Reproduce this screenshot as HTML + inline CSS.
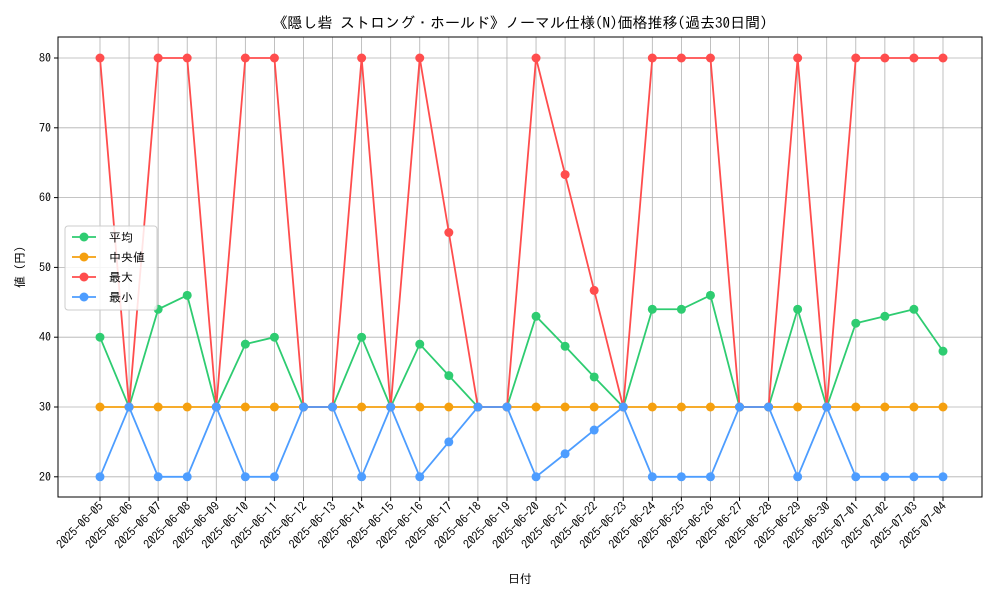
<!DOCTYPE html>
<html><head><meta charset="utf-8"><style>
body{margin:0;background:#fff;}
svg{font-family:"IPAGothic","Liberation Sans","Noto Sans CJK JP",sans-serif;}
</style></head><body>
<svg id="c" width="1000" height="600"></svg>
<script>
const categories=["2025-06-05","2025-06-06","2025-06-07","2025-06-08","2025-06-09","2025-06-10","2025-06-11","2025-06-12","2025-06-13","2025-06-14","2025-06-15","2025-06-16","2025-06-17","2025-06-18","2025-06-19","2025-06-20","2025-06-21","2025-06-22","2025-06-23","2025-06-24","2025-06-25","2025-06-26","2025-06-27","2025-06-28","2025-06-29","2025-06-30","2025-07-01","2025-07-02","2025-07-03","2025-07-04"];
const avgValues=[40,30,44,46,30,39,40,30,30,40,30,39,34.5,30,30,43,38.7,34.3,30,44,44,46,30,30,44,30,42,43,44,38];
const medianValues=[30,30,30,30,30,30,30,30,30,30,30,30,30,30,30,30,30,30,30,30,30,30,30,30,30,30,30,30,30,30];
const maxValues=[80,30,80,80,30,80,80,30,30,80,30,80,55,30,30,80,63.3,46.7,30,80,80,80,30,30,80,30,80,80,80,80];
const minValues=[20,30,20,20,30,20,20,30,30,20,30,20,25,30,30,20,23.3,26.7,30,20,20,20,30,30,20,30,20,20,20,20];
const yTicks=[20,30,40,50,60,70,80];
const NS="http://www.w3.org/2000/svg";
const svg=document.getElementById('c');
const L=58,R=982,T=37,B=497;
const xs=i=>100+i*(943-100)/29;
const ys=v=>407-(v-30)*(407-58)/50;
function mk(t,a,p){const e=document.createElementNS(NS,t);for(const k in a)e.setAttribute(k,a[k]);(p||svg).appendChild(e);return e;}
categories.forEach((c,i)=>{const g=mk('line',{x1:xs(i),x2:xs(i),y1:T,y2:B,stroke:'#b0b0b0','stroke-width':0.8});

const tk=mk('line',{x1:xs(i),x2:xs(i),y1:B,y2:B+4,stroke:'#000'});

const t=mk('text',{x:0,y:0,'font-size':12,'text-anchor':'end',transform:`translate(${xs(i)+4},${B+10}) rotate(-45)`});
t.textContent=c;});
yTicks.forEach(v=>{const g=mk('line',{x1:L,x2:R,y1:ys(v),y2:ys(v),stroke:'#b0b0b0','stroke-width':0.8});

const tk=mk('line',{x1:L-4,x2:L,y1:ys(v),y2:ys(v),stroke:'#000'});

const t=mk('text',{x:L-7,y:ys(v)+4,'font-size':12,'text-anchor':'end'});t.textContent=v;
});
const series=[["avg",avgValues,"#2ecc71"],["median",medianValues,"#f5a00f"],["max",maxValues,"#ff4d4d"],["min",minValues,"#4d9dff"]];
series.forEach(([n,vals,col])=>{
const p=mk('polyline',{points:vals.map((v,i)=>xs(i)+','+ys(v)).join(' '),fill:'none',stroke:col,'stroke-width':1.8});

vals.forEach((v,i)=>{const c=mk('circle',{cx:xs(i),cy:ys(v),r:4.5,fill:col});
});});
const fr=mk('rect',{x:L,y:T,width:R-L,height:B-T,fill:'none',stroke:'#000','stroke-width':1});

const lg=mk('g',{});
mk('rect',{x:65,y:226,width:92,height:84,rx:3,fill:'#fff','fill-opacity':0.85,stroke:'#ccc'},lg);
const names=["平均","中央値","最大","最小"];
series.forEach(([n,v,col],k)=>{const y=237+k*20;
const ln=mk('line',{x1:72,x2:96,y1:y,y2:y,stroke:col,'stroke-width':1.8},lg);

const c=mk('circle',{cx:84,cy:y,r:4.5,fill:col},lg);

const t=mk('text',{x:109,y:y+4.5,'font-size':12},lg);t.textContent=names[k];
});
const ti=mk('text',{x:520,y:28,'font-size':15,'text-anchor':'middle'});ti.textContent="《隠し砦 ストロング・ホールド》ノーマル仕様(N)価格推移(過去30日間)";

const xt=mk('text',{x:520,y:583,'font-size':12,'text-anchor':'middle'});xt.textContent="日付";

const yt=mk('text',{x:0,y:0,'font-size':12,'text-anchor':'middle',transform:'translate(24,267) rotate(-90)'});yt.textContent="値 (円)";

</script>
</body></html>
